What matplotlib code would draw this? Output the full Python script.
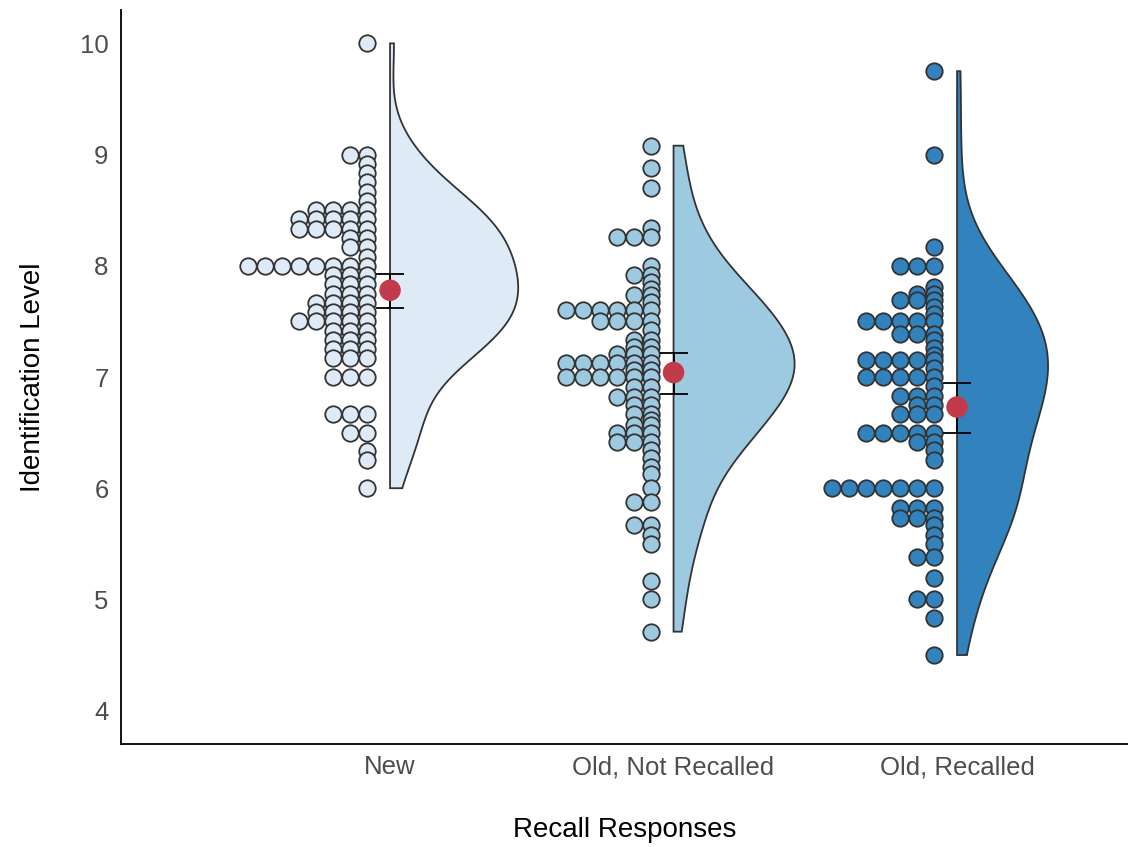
import numpy as np
import matplotlib
matplotlib.use("Agg")
import matplotlib.pyplot as plt

plt.rcParams['font.family'] = ['Liberation Sans', 'DejaVu Sans']

categories = ["New", "Old, Not Recalled", "Old, Recalled"]

# value -> count of dots at that value
new_vals = [10.0, 9.0, 8.917, 8.833, 8.75, 8.667, 8.583, 8.5, 8.417, 8.333, 8.25, 8.167,
            8.083, 8.0, 7.917, 7.833, 7.75, 7.667, 7.583, 7.5, 7.417, 7.333, 7.25, 7.167,
            7.0, 6.667, 6.5, 6.333, 6.25, 6.0]
new_counts = [1, 2, 1, 1, 1, 1, 1, 4, 5, 5, 2, 2,
              1, 8, 3, 3, 3, 4, 4, 5, 3, 3, 3, 3,
              3, 3, 2, 1, 1, 1]

onr_vals = [9.08, 8.88, 8.70, 8.34, 8.26, 8.0, 7.92, 7.85, 7.79, 7.74, 7.67, 7.6, 7.5,
            7.42, 7.33, 7.27, 7.21, 7.13, 7.06, 7.0, 6.91, 6.82, 6.75, 6.67, 6.61, 6.57,
            6.5, 6.42, 6.34, 6.27, 6.19, 6.13, 6.0, 5.88, 5.67, 5.58, 5.5, 5.17, 5.0, 4.71]
onr_counts = [1, 1, 1, 1, 3, 1, 2, 1, 1, 2, 1, 6, 4,
              1, 2, 2, 3, 6, 2, 6, 2, 3, 2, 2, 1, 2,
              3, 3, 1, 1, 1, 1, 1, 2, 2, 1, 1, 1, 1, 1]

or_vals = [9.75, 9.0, 8.17, 8.0, 7.81, 7.75, 7.69, 7.63, 7.57, 7.5, 7.39, 7.33, 7.26,
           7.2, 7.15, 7.08, 7.0, 6.92, 6.83, 6.75, 6.67, 6.5, 6.42, 6.34, 6.25, 6.0,
           5.82, 5.73, 5.67, 5.58, 5.5, 5.38, 5.19, 5.0, 4.83, 4.5]
or_counts = [1, 1, 1, 3, 1, 2, 3, 1, 1, 5, 3, 1, 1,
             1, 5, 1, 5, 1, 3, 2, 3, 5, 2, 1, 1, 7,
             3, 3, 1, 1, 1, 2, 1, 2, 1, 1]

means = [7.78, 7.04, 6.73]
ci_low = [7.62, 6.85, 6.50]
ci_high = [7.93, 7.22, 6.95]

fills = ["#deebf7", "#9ecae1", "#3182bd"]
violin_half_width = [0.452, 0.427, 0.321]
bw_adjust = 1.2

groups = [(new_vals, new_counts), (onr_vals, onr_counts), (or_vals, or_counts)]

fig = plt.figure(figsize=(11.28, 8.47), dpi=100)
ax = fig.add_axes([121/1128, 1 - 744/847, 1 - 121/1128, (744 - 10)/847])

edge = "#333333"
dot_offset = 0.081
dot_step = 0.06

for i, (vals, counts) in enumerate(groups):
    data = np.repeat(np.array(vals, float), counts)
    n = len(data)
    sd = data.std(ddof=1)
    iqr = np.subtract(*np.percentile(data, [75, 25]))
    bw = bw_adjust * 0.9 * min(sd, iqr / 1.34) * n ** (-0.2)
    grid = np.linspace(data.min(), data.max(), 400)
    dens = np.exp(-0.5 * ((grid[:, None] - data[None, :]) / bw) ** 2).sum(axis=1)
    dens = dens / dens.max() * violin_half_width[i]
    xs = np.concatenate([[i], i + dens, [i]])
    ys = np.concatenate([[grid[0]], grid, [grid[-1]]])
    ax.fill(xs, ys, facecolor=fills[i], edgecolor=edge, linewidth=1.3, zorder=1)

    # dots stacked leftwards
    dx, dy = [], []
    for v, c in zip(vals, counts):
        for k in range(c):
            dx.append(i - dot_offset - k * dot_step)
            dy.append(v)
    ax.scatter(dx, dy, s=140, facecolor=fills[i], edgecolor=edge, linewidth=1.3, zorder=2)

    ax.errorbar([i], [means[i]], yerr=[[means[i] - ci_low[i]], [ci_high[i] - means[i]]],
                fmt='none', ecolor='black', elinewidth=1.3, capsize=10, capthick=1.3, zorder=3)
    ax.scatter([i], [means[i]], s=240, color="#c23b4b", edgecolor='none', zorder=4)

ax.set_xlim(-0.949, 2.603)
ax.set_ylim(3.70, 10.30)
ax.set_xticks(range(3))
ax.set_xticklabels(categories)
ax.set_yticks(range(4, 11))
ax.tick_params(length=0, labelsize=18.5, labelcolor="#4d4d4d")
ax.tick_params(axis='x', pad=8)
ax.tick_params(axis='y', pad=9)
for s in ['top', 'right']:
    ax.spines[s].set_visible(False)
for s in ['left', 'bottom']:
    ax.spines[s].set_linewidth(1.3)
    ax.spines[s].set_color('black')
ax.set_xlabel("Recall Responses", fontsize=20, labelpad=27)
ax.set_ylabel("Identification Level", fontsize=20, labelpad=24)

fig.savefig("out.png", dpi=100)
